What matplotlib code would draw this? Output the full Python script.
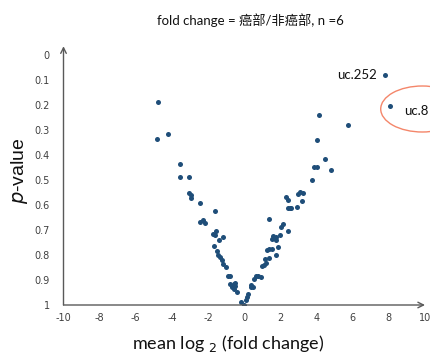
import matplotlib
matplotlib.use("Agg")
import matplotlib.pyplot as plt
from matplotlib.patches import Ellipse

# mean log2 fold change
log2fc = [-4.77, -4.24, -4.81, -3.57, -3.55, -3.04, -3.04, -2.95, -2.97, -2.47,
          -1.62, -2.45, -2.30, -2.17, -1.59, -1.75, -1.60, -1.18, -1.38, -1.70,
          -1.51, -1.45, -1.34, -1.22, -1.18, -0.99, -0.92, -0.80, -0.79, -0.59,
          -0.50, -0.70, -0.55, -0.40, -0.50, -0.18, -0.04,
          0.09, 0.15, 0.20, 0.37, 0.40, 0.51, 0.55, 0.66, 0.77, 0.90, 0.96,
          1.07, 1.18, 1.14, 1.38, 1.73, 1.25, 1.38, 1.51, 1.84, 1.55, 1.78,
          1.75, 1.57, 1.97, 2.43, 2.06, 2.17, 1.38, 2.43, 2.61, 2.52, 2.93,
          2.32, 2.43, 2.95, 3.08, 3.26, 3.19, 3.74, 3.85, 4.05, 4.79, 4.49,
          4.03, 4.14, 5.75, 7.77, 8.07]
pvalue = [0.187, 0.315, 0.337, 0.437, 0.489, 0.487, 0.553, 0.559, 0.571, 0.593,
          0.624, 0.669, 0.660, 0.673, 0.704, 0.716, 0.721, 0.729, 0.741, 0.763,
          0.785, 0.799, 0.807, 0.821, 0.837, 0.849, 0.884, 0.884, 0.916, 0.916,
          0.924, 0.928, 0.935, 0.947, 0.913, 0.987, 1.000,
          0.980, 0.968, 0.955, 0.927, 0.920, 0.929, 0.897, 0.883, 0.884, 0.889, 0.844,
          0.840, 0.831, 0.817, 0.811, 0.800, 0.779, 0.777, 0.777, 0.768, 0.737, 0.740,
          0.729, 0.724, 0.719, 0.703, 0.687, 0.677, 0.656, 0.612, 0.612, 0.612, 0.609,
          0.567, 0.579, 0.557, 0.547, 0.552, 0.584, 0.501, 0.447, 0.449, 0.459, 0.417,
          0.339, 0.241, 0.280, 0.080, 0.204]

xticks = [-10, -8, -6, -4, -2, 0, 2, 4, 6, 8, 10]
yticks = [0, 0.1, 0.2, 0.3, 0.4, 0.5, 0.6, 0.7, 0.8, 0.9, 1]
ytick_labels = ["0", "0.1", "0.2", "0.3", "0.4", "0.5", "0.6", "0.7", "0.8", "0.9", "1"]

labels = {"uc.252": (7.77, 0.080), "uc.8": (8.07, 0.204)}

W, H = 430, 355
fig = plt.figure(figsize=(W / 100, H / 100), dpi=100)
ax = fig.add_axes([63.5 / W, 50 / H, (425 - 63.5) / W, 258.75 / H])
ax.set_xlim(-10, 10)
ax.set_ylim(1, -0.035)

ax.scatter(log2fc, pvalue, s=13, color="#1f4e79", linewidths=0, zorder=3)

for s in ax.spines.values():
    s.set_visible(False)
axc = "#595959"
ax.annotate("", xy=(1.0, 0), xytext=(0, 0), xycoords="axes fraction",
            arrowprops=dict(arrowstyle="->", color=axc, lw=1.0, shrinkA=0, shrinkB=0),
            annotation_clip=False)
ax.annotate("", xy=(0, 1.0), xytext=(0, 0), xycoords="axes fraction",
            arrowprops=dict(arrowstyle="->", color=axc, lw=1.0, shrinkA=0, shrinkB=0),
            annotation_clip=False)

ax.set_xticks(xticks)
ax.set_xticklabels([str(t) for t in xticks])
ax.set_yticks(yticks)
ax.set_yticklabels(ytick_labels)
ax.tick_params(axis="both", length=0, labelsize=7, colors="#404040")
ax.tick_params(axis="x", pad=6)
ax.tick_params(axis="y", pad=10)

ax.text(labels["uc.252"][0] - 0.45, labels["uc.252"][1], "uc.252", ha="right", va="center",
        fontsize=9.5, family=["Lato", "DejaVu Sans"], color="#111111")
ax.text(labels["uc.8"][0] + 0.75, labels["uc.8"][1] + 0.02, "uc.8", ha="left", va="center",
        fontsize=9.5, family=["Lato", "DejaVu Sans"], color="#111111", clip_on=False)

ell = Ellipse((9.85, 0.216), 4.6, 0.184, fill=False, edgecolor="#f4866a", lw=1.0, clip_on=False)
ax.add_patch(ell)

fig.text(250 / W, 1 - 20 / H, "fold change = 癌部/非癌部, n =6", ha="center", va="center",
         fontsize=9.5, family=["Lato", "Noto Sans CJK SC"], color="#111111")
fig.text(19 / W, 1 - 171 / H, "$\\mathit{p}$-value", rotation=90, ha="center", va="center",
         fontsize=14, family=["Liberation Sans"], color="#111111")
fig.text(228 / W, 1 - 343 / H, "mean log $_{2}$ (fold change)", ha="center", va="center",
         fontsize=13, family=["Lato"], color="#111111")

fig.savefig("out.png", dpi=100)
